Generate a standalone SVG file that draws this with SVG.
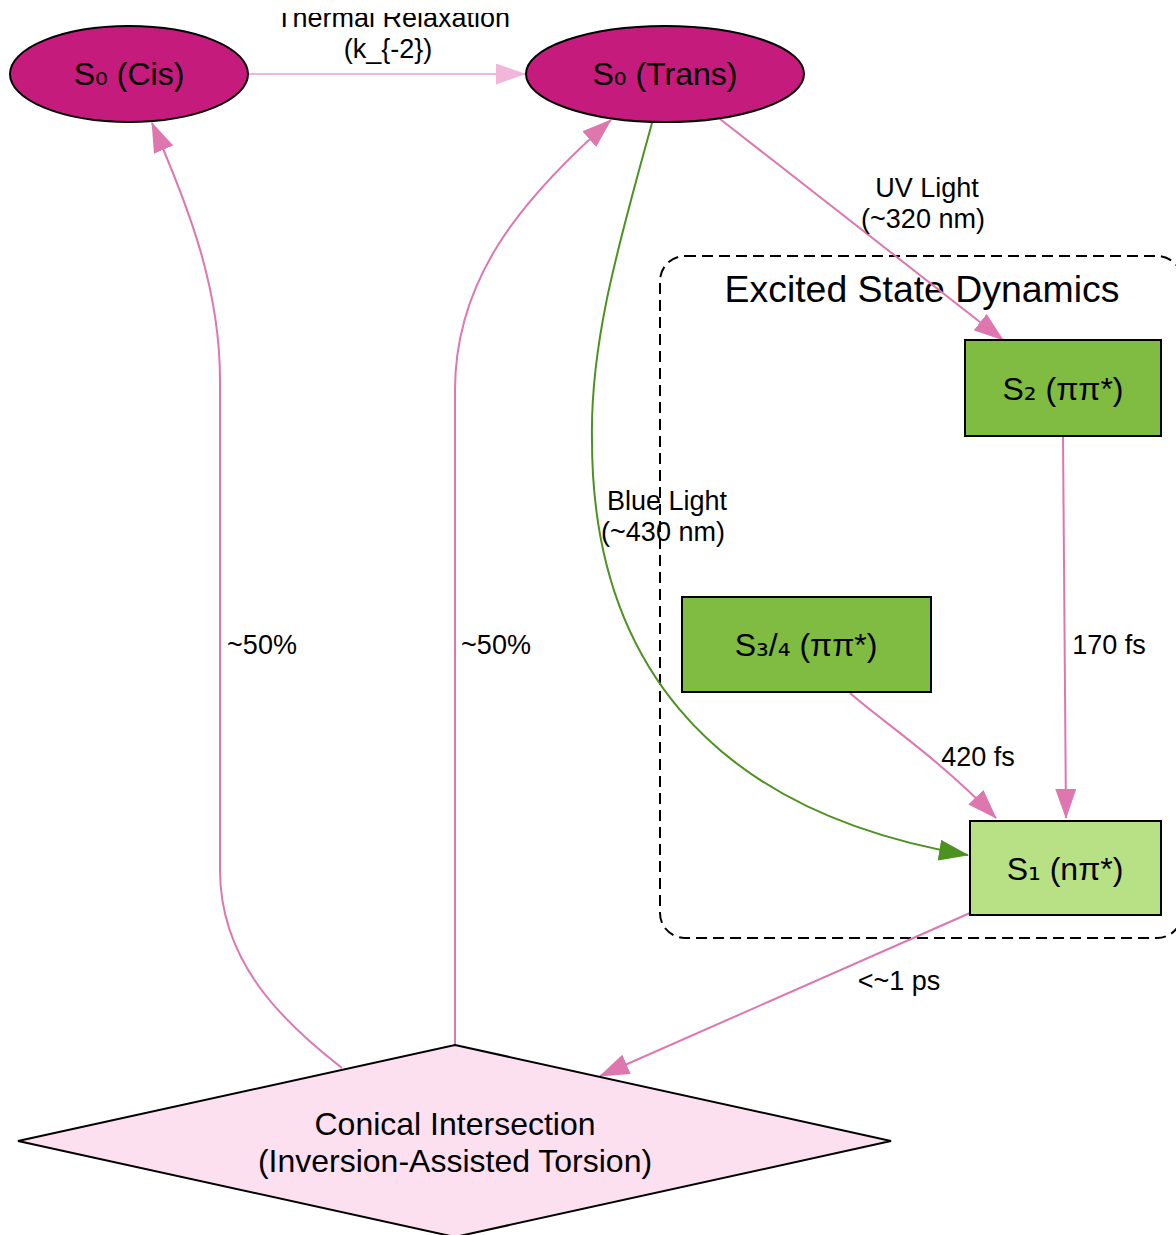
<svg xmlns="http://www.w3.org/2000/svg" width="1176" height="1235" viewBox="0 0 1176 1235">
<style>
text{font-family:"Liberation Sans","DejaVu Sans",Arial,sans-serif;fill:#000;text-anchor:middle}
.nl{font-size:32px}
.el{font-size:27px}
.cl{font-size:37.4px}
.sub{font-family:"DejaVu Sans",sans-serif}
.node{stroke:#000;stroke-width:2}
.e{fill:none;stroke-width:2}
.pink{stroke:#de77ae}
.lpink{stroke:#f1b6da}
.green{stroke:#4d9221}
</style>
<defs>
<marker id="ap" markerUnits="userSpaceOnUse" markerWidth="30" markerHeight="21" refX="29" refY="10.5" orient="auto"><path d="M0,0 L30,10.5 L0,21 z" fill="#de77ae"/></marker>
<marker id="al" markerUnits="userSpaceOnUse" markerWidth="30" markerHeight="21" refX="29" refY="10.5" orient="auto"><path d="M0,0 L30,10.5 L0,21 z" fill="#f1b6da"/></marker>
<marker id="ag" markerUnits="userSpaceOnUse" markerWidth="30" markerHeight="21" refX="29" refY="10.5" orient="auto"><path d="M0,0 L30,10.5 L0,21 z" fill="#4d9221"/></marker>
<clipPath id="topclip"><rect x="0" y="13" width="1176" height="1222"/></clipPath>
</defs>
<rect width="1176" height="1235" fill="#fff"/>
<g id="cluster_excited">
<rect x="660" y="256" width="522" height="682" rx="25" ry="25" fill="none" stroke="#000" stroke-width="2" stroke-dasharray="11,6"/>
<text class="cl" x="922" y="302">Excited State Dynamics</text>
</g>
<g id="connectors">
<path class="e lpink" d="M249,74 L525,74" marker-end="url(#al)"/>
<text class="el" x="393" y="27" clip-path="url(#topclip)">Thermal Relaxation</text>
<text class="el" x="388" y="58">(k_{-2})</text>
<path class="e pink" d="M720,119 L1003,340" marker-end="url(#ap)"/>
<text class="el" x="927" y="197">UV Light</text>
<text class="el" x="923" y="228">(~320 nm)</text>
<path class="e green" d="M652,123 C620,240 590,340 592,440 C592,650 700,810 968,855" marker-end="url(#ag)"/>
<text class="el" x="667" y="510">Blue Light</text>
<text class="el" x="663" y="541">(~430 nm)</text>
<path class="e pink" d="M1063,437 L1066,818" marker-end="url(#ap)"/>
<text class="el" x="1109" y="654">170 fs</text>
<path class="e pink" d="M850,693 C880,720 935,755 996,818" marker-end="url(#ap)"/>
<text class="el" x="978" y="766">420 fs</text>
<path class="e pink" d="M970,913 L600,1076" marker-end="url(#ap)"/>
<text class="el" x="899" y="990">&lt;~1 ps</text>
<path class="e pink" d="M342,1068 C280,1020 220,960 220,870 L220,380 C220,290 190,210 152,123" marker-end="url(#ap)"/>
<text class="el" x="262" y="654">~50%</text>
<path class="e pink" d="M455,1045 L455,390 C455,280 520,200 611,120" marker-end="url(#ap)"/>
<text class="el" x="496" y="654">~50%</text>
</g>
<g id="s0_cis">
<ellipse class="node" cx="129" cy="74" rx="119" ry="48" fill="#c51b7d"/>
<text class="nl" x="129" y="85">S<tspan class="sub">₀</tspan> (Cis)</text>
</g>
<g id="s0_trans">
<ellipse class="node" cx="665" cy="74" rx="139" ry="48" fill="#c51b7d"/>
<text class="nl" x="665" y="85">S<tspan class="sub">₀</tspan> (Trans)</text>
</g>
<g id="s2">
<rect class="node" x="965" y="340" width="196" height="96" fill="#7fbc41"/>
<text class="nl" x="1063" y="400">S<tspan class="sub">₂</tspan> (ππ*)</text>
</g>
<g id="s34">
<rect class="node" x="682" y="597" width="249" height="95" fill="#7fbc41"/>
<text class="nl" x="806" y="656">S<tspan class="sub">₃</tspan>/<tspan class="sub">₄</tspan> (ππ*)</text>
</g>
<g id="s1">
<rect class="node" x="970" y="821" width="191" height="94" fill="#b8e186"/>
<text class="nl" x="1065" y="880">S<tspan class="sub">₁</tspan> (nπ*)</text>
</g>
<g id="ci">
<polygon class="node" points="455,1045 891,1141 455,1237 18,1141" fill="#fde0ef"/>
<text class="nl" x="455" y="1135">Conical Intersection</text>
<text class="nl" x="455" y="1172">(Inversion-Assisted Torsion)</text>
</g>
</svg>
